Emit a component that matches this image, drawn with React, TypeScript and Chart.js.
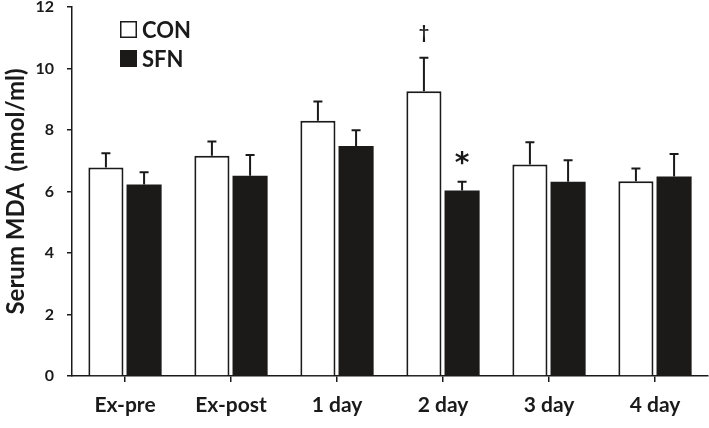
import React, { useEffect, useRef } from "react";
import { Chart, registerables } from "chart.js";

Chart.register(...registerables);

const categories = ["Ex-pre", "Ex-post", "1 day", "2 day", "3 day", "4 day"];
const conValues = [6.78, 7.16, 8.3, 9.26, 6.88, 6.33];
const conErrors = [0.46, 0.47, 0.63, 1.09, 0.72, 0.42];
const sfnValues = [6.23, 6.51, 7.48, 6.03, 6.32, 6.49];
const sfnErrors = [0.4, 0.68, 0.51, 0.29, 0.7, 0.73];
const yTicks = [0, 2, 4, 6, 8, 10, 12];
const seriesNames = ["CON", "SFN"];
// significance marks: [datasetIndex, categoryIndex, symbol]
const marks: [number, number, string][] = [
  [0, 3, "†"],
  [1, 3, "*"],
];

const FONT = "Lato, 'Open Sans', sans-serif";
const INK = "#1a1a1a";
const DARK = "#1c1a19";

const errorBarPlugin = {
  id: "errorBars",
  afterDatasetsDraw(chart: any) {
    const ctx = chart.ctx;
    const y = chart.scales.y;
    const errs = [conErrors, sfnErrors];
    const vals = [conValues, sfnValues];
    ctx.save();
    ctx.strokeStyle = INK;
    ctx.lineWidth = 2;
    for (let d = 0; d < 2; d++) {
      const meta = chart.getDatasetMeta(d);
      meta.data.forEach((bar: any, i: number) => {
        const top = y.getPixelForValue(vals[d][i] + errs[d][i]);
        const base = y.getPixelForValue(vals[d][i]);
        ctx.beginPath();
        ctx.moveTo(bar.x, base);
        ctx.lineTo(bar.x, top);
        ctx.moveTo(bar.x - 4.5, top);
        ctx.lineTo(bar.x + 4.5, top);
        ctx.stroke();
      });
    }
    // significance symbols
    ctx.fillStyle = INK;
    ctx.textAlign = "center";
    ctx.textBaseline = "middle";
    marks.forEach(([d, i, s]) => {
      const bar = chart.getDatasetMeta(d).data[i];
      const top = y.getPixelForValue(vals[d][i] + errs[d][i]);
      if (s === "*") {
        ctx.font = `bold 28px 'DejaVu Sans', sans-serif`;
        ctx.fillText(s, bar.x, top - 17);
      } else {
        ctx.font = `bold 18px ${FONT}`;
        ctx.fillText(s, bar.x, top - 25);
      }
    });
    // legend
    const area = chart.chartArea;
    const lx = area.left + 48;
    let ly = area.top + 14;
    ctx.textAlign = "left";
    ctx.textBaseline = "alphabetic";
    ctx.font = `bold 22px ${FONT}`;
    seriesNames.forEach((name, k) => {
      if (k === 0) {
        ctx.fillStyle = "#ffffff";
        ctx.fillRect(lx, ly, 17, 17);
        ctx.lineWidth = 1.5;
        ctx.strokeStyle = INK;
        ctx.strokeRect(lx + 0.75, ly + 0.75, 15.5, 15.5);
      } else {
        ctx.fillStyle = DARK;
        ctx.fillRect(lx, ly, 17, 17);
      }
      ctx.fillStyle = INK;
      ctx.fillText(name, lx + 22, ly + 17);
      ly += 29;
    });
    ctx.restore();
  },
};

export default function App() {
  const ref = useRef<HTMLCanvasElement | null>(null);
  useEffect(() => {
    document.body.style.margin = "0";
    const chart = new Chart(ref.current as HTMLCanvasElement, {
      type: "bar",
      data: {
        labels: categories,
        datasets: [
          {
            label: seriesNames[0],
            data: conValues,
            backgroundColor: "#ffffff",
            borderColor: INK,
            borderWidth: 2,
            categoryPercentage: 0.72,
            barPercentage: 0.92,
          },
          {
            label: seriesNames[1],
            data: sfnValues,
            backgroundColor: DARK,
            borderColor: DARK,
            borderWidth: 0,
            categoryPercentage: 0.72,
            barPercentage: 0.92,
          },
        ],
      },
      options: {
        animation: false,
        responsive: false,
        maintainAspectRatio: false,
        layout: { autoPadding: false, padding: { top: 7, right: 1, left: 0, bottom: 0 } },
        plugins: {
          legend: { display: false },
          tooltip: { enabled: false },
          title: { display: false },
        },
        scales: {
          x: {
            grid: {
              offset: false,
              drawOnChartArea: false,
              drawTicks: true,
              tickLength: 6,
              color: INK,
              lineWidth: 1.5,
            },
            border: { color: INK, width: 1.5 },
            ticks: {
              color: INK,
              padding: 11,
              font: { family: FONT, weight: "bold", size: 21 },
            },
            afterFit(scale: any) {
              scale.height = 52;
              scale.paddingLeft = 0;
              scale.paddingRight = 0;
              scale.paddingTop = 0;
              scale.paddingBottom = 0;
            },
          },
          y: {
            min: 0,
            max: 12,
            afterBuildTicks(scale: any) {
              scale.ticks = yTicks.map((v) => ({ value: v }));
            },
            grid: {
              drawOnChartArea: false,
              drawTicks: true,
              tickLength: 5,
              color: INK,
              lineWidth: 1.5,
            },
            border: { color: INK, width: 1.5 },
            ticks: {
              color: INK,
              padding: 13,
              font: { family: FONT, weight: "bold", size: 16 },
            },
            title: {
              display: true,
              text: "Serum MDA  (nmol/ml)",
              color: INK,
              padding: { top: 2, bottom: 0 },
              font: { family: FONT, weight: "bold", size: 24 },
            },
            afterFit(scale: any) {
              scale.width = 72;
              scale.paddingTop = 0;
              scale.paddingBottom = 0;
              scale.paddingLeft = 0;
              scale.paddingRight = 0;
            },
          },
        },
      },
      plugins: [errorBarPlugin],
    });
    return () => chart.destroy();
  }, []);
  return (
    <div style={{ position: "absolute", left: 0, top: 0, width: 709, height: 428 }}>
      <canvas ref={ref} width={709} height={428} style={{ display: "block" }} />
    </div>
  );
}
